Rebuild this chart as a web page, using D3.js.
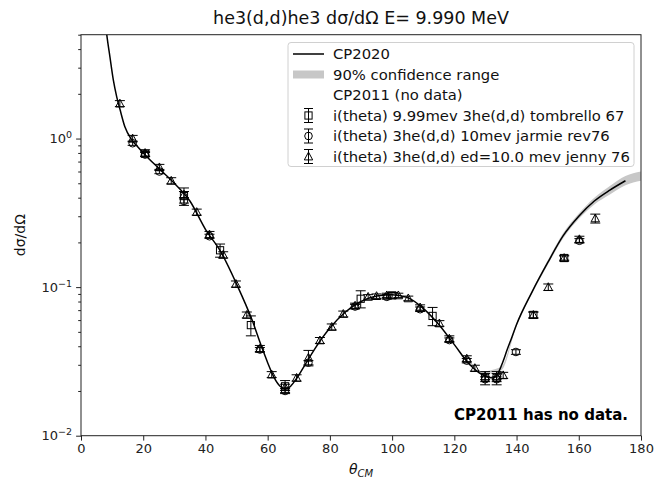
<!DOCTYPE html>
<html>
<head>
<meta charset="utf-8">
<script src="https://cdn.jsdelivr.net/npm/d3@7"></script>
<style>
  html, body { margin: 0; padding: 0; background: #fff; }
  text { font-family: "DejaVu Sans", sans-serif; }
</style>
</head>
<body>
<div id="chart"></div>
<script>
// CP2020 curve (theta in degrees, dsigma/dOmega)
const cpTheta = [8.0, 8.3, 9.3, 10.4, 11.5, 12.5, 14.1, 16.3, 18, 20, 25, 30, 35, 40, 45, 50, 55, 58, 60, 62, 64, 65.5, 67, 69, 72, 75, 80, 85, 90, 95, 100, 105, 110, 115, 120, 125, 128, 131, 132.5, 134, 135.5, 137, 138.5, 140, 145, 150, 155, 160, 165, 170, 175];
const cpValue = [5.6, 4.97, 3.54, 2.47, 1.90, 1.58, 1.20, 0.98, 0.89, 0.80, 0.63, 0.50, 0.38, 0.245, 0.172, 0.105, 0.060, 0.040, 0.031, 0.0248, 0.0215, 0.0206, 0.0212, 0.0238, 0.030, 0.038, 0.053, 0.068, 0.080, 0.087, 0.089, 0.085, 0.072, 0.056, 0.041, 0.030, 0.0265, 0.0247, 0.0245, 0.0262, 0.031, 0.038, 0.046, 0.056, 0.093, 0.146, 0.222, 0.30, 0.38, 0.45, 0.52];

// 90% confidence range
const bandTheta = [128, 135, 140, 145, 150, 155, 160, 165, 170, 175, 180];
const bandLow = [0.0262, 0.0275, 0.0545, 0.0905, 0.141, 0.213, 0.287, 0.36, 0.42, 0.485, 0.52];
const bandHigh = [0.0268, 0.0290, 0.0575, 0.0955, 0.151, 0.231, 0.313, 0.40, 0.48, 0.56, 0.60];

// i(theta) 9.99mev 3he(d,d) tombrello 67 (squares)
const tomTheta = [20.6, 33.1, 44.7, 54.6, 65.6, 89.9, 100.0, 113.0, 129.9, 133.6, 145.4, 155.3];
const tomValue = [0.79, 0.41, 0.177, 0.0555, 0.0215, 0.0835, 0.088, 0.064, 0.0245, 0.0245, 0.065, 0.157];
const tomError = [0.03, 0.055, 0.018, 0.0085, 0.002, 0.011, 0.004, 0.009, 0.0025, 0.0025, 0.003, 0.005];

// i(theta) 3he(d,d) 10mev jarmie rev76 (circles)
const jarTheta = [16.6, 20.6, 25.2, 33.1, 41.3, 57.5, 65.6, 73.1, 88.1, 98.3, 109.0, 118.4, 124.0, 129.9, 133.6, 139.8, 160.2];
const jarValue = [0.93, 0.78, 0.60, 0.38, 0.22, 0.038, 0.020, 0.031, 0.074, 0.086, 0.071, 0.044, 0.032, 0.024, 0.024, 0.0366, 0.205];
const jarError = [0.03, 0.025, 0.02, 0.012, 0.007, 0.0012, 0.0008, 0.001, 0.0025, 0.003, 0.0025, 0.0015, 0.0011, 0.0009, 0.0009, 0.0013, 0.007];

// i(theta) 3he(d,d) ed=10.0 mev jenny 76 (triangles)
const jenTheta = [12.5, 16.6, 20.6, 25.2, 29.0, 33.1, 37.2, 41.3, 45.7, 49.8, 53.3, 57.5, 61.3, 65.6, 69.3, 73.1, 76.8, 80.6, 84.3, 88.1, 92.3, 95.0, 98.3, 102.0, 105.2, 109.0, 115.2, 118.4, 124.0, 126.6, 129.9, 133.6, 135.7, 145.4, 150.2, 155.3, 160.2, 165.3];
const jenValue = [1.72, 1.00, 0.80, 0.64, 0.52, 0.42, 0.32, 0.226, 0.165, 0.105, 0.065, 0.0385, 0.0258, 0.0212, 0.0245, 0.0335, 0.0438, 0.054, 0.066, 0.075, 0.086, 0.087, 0.088, 0.088, 0.084, 0.073, 0.057, 0.045, 0.033, 0.0285, 0.025, 0.025, 0.0255, 0.065, 0.100, 0.157, 0.21, 0.29];
const jenError = [0.08, 0.05, 0.04, 0.03, 0.025, 0.02, 0.015, 0.011, 0.008, 0.005, 0.003, 0.002, 0.0012, 0.001, 0.0012, 0.004, 0.002, 0.0025, 0.003, 0.003, 0.003, 0.003, 0.003, 0.003, 0.003, 0.003, 0.0025, 0.002, 0.0015, 0.0013, 0.0012, 0.0012, 0.0012, 0.003, 0.005, 0.007, 0.01, 0.02];

const xTicks = [0, 20, 40, 60, 80, 100, 120, 140, 160, 180];
const yTicks = [0.01, 0.1, 1];
const yTickExp = ["\u22122", "\u22121", "0"];
const legendLabels = ["CP2020", "90% confidence range", "CP2011 (no data)",
  "i(theta) 9.99mev 3he(d,d) tombrello 67",
  "i(theta) 3he(d,d) 10mev jarmie rev76",
  "i(theta) 3he(d,d) ed=10.0 mev jenny 76"];

const width = 654, height = 481;
const plot = { left: 81, right: 641, top: 34.7, bottom: 435.7 };

const svg = d3.select('#chart').append('svg')
  .attr('width', width).attr('height', height);

const x = d3.scaleLinear().domain([0, 180]).range([plot.left, plot.right]);
const y = d3.scaleLog().domain([0.01, 5]).range([plot.bottom, plot.top]);

svg.append('clipPath').attr('id', 'clip')
  .append('rect')
  .attr('x', plot.left).attr('y', plot.top)
  .attr('width', plot.right - plot.left).attr('height', plot.bottom - plot.top);

const g = svg.append('g').attr('clip-path', 'url(#clip)');

// 置信带
const band = d3.area()
  .x((d, i) => x(bandTheta[i]))
  .y0((d, i) => y(bandLow[i]))
  .y1((d, i) => y(bandHigh[i]))
  .curve(d3.curveMonotoneX);
g.append('path').datum(bandTheta)
  .attr('fill', '#b4b4b4').attr('fill-opacity', 0.75).attr('d', band);

// CP2020 曲线
const line = d3.line()
  .x((d, i) => x(cpTheta[i]))
  .y((d, i) => y(cpValue[i]))
  .curve(d3.curveMonotoneX);
g.append('path').datum(cpValue)
  .attr('fill', 'none').attr('stroke', '#000').attr('stroke-width', 1.5).attr('d', line);

// 数据点
function marker(sel, shape, cx, cy) {
  if (shape === 'square') {
    sel.append('rect').attr('x', cx - 3.6).attr('y', cy - 3.6).attr('width', 7.2).attr('height', 7.2);
  } else if (shape === 'circle') {
    sel.append('circle').attr('cx', cx).attr('cy', cy).attr('r', 3.8);
  } else {
    sel.append('path').attr('d', `M${cx},${cy - 4.4}L${cx + 4.2},${cy + 3.4}L${cx - 4.2},${cy + 3.4}Z`);
  }
}

function errorbar(sel, cx, yLo, yHi, cap) {
  sel.append('line').attr('x1', cx).attr('x2', cx).attr('y1', yLo).attr('y2', yHi);
  sel.append('line').attr('x1', cx - cap).attr('x2', cx + cap).attr('y1', yLo).attr('y2', yLo);
  sel.append('line').attr('x1', cx - cap).attr('x2', cx + cap).attr('y1', yHi).attr('y2', yHi);
}

const series = [
  { theta: tomTheta, value: tomValue, err: tomError, shape: 'square' },
  { theta: jarTheta, value: jarValue, err: jarError, shape: 'circle' },
  { theta: jenTheta, value: jenValue, err: jenError, shape: 'triangle' }
];

series.forEach(s => {
  const sg = g.append('g').attr('stroke', '#000').attr('stroke-width', 1).attr('fill', 'none');
  s.theta.forEach((t, i) => {
    const cx = x(t);
    errorbar(sg, cx, y(s.value[i] - s.err[i]), y(s.value[i] + s.err[i]), 5);
    marker(sg, s.shape, cx, y(s.value[i]));
  });
});

// 坐标轴
const axisColor = '#222';
const xAxis = svg.append('g').attr('transform', `translate(0,${plot.bottom})`)
  .call(d3.axisBottom(x).tickValues(xTicks).tickSize(4.9).tickPadding(3.5).tickFormat(d3.format('d')));
const yAxis = svg.append('g').attr('transform', `translate(${plot.left},0)`)
  .call(d3.axisLeft(y).tickValues(yTicks).tickSize(4.9).tickPadding(3.5).tickFormat(''));

const minor = [];
[0.01, 0.1, 1].forEach(dec => d3.range(2, 10).forEach(k => { if (dec * k <= 5) minor.push(dec * k); }));
svg.append('g').attr('transform', `translate(${plot.left},0)`)
  .call(d3.axisLeft(y).tickValues(minor).tickSize(2.8).tickFormat(''))
  .call(a => a.select('.domain').remove());

[xAxis, yAxis].forEach(a => {
  a.selectAll('.domain').remove();
  a.selectAll('line').attr('stroke', axisColor).attr('stroke-width', 1);
  a.selectAll('text').attr('font-size', 13).attr('fill', '#222').style('font-family', '"DejaVu Sans"');
});
svg.selectAll('.tick line').attr('stroke', axisColor);

// y 轴刻度标签 10^n
yTicks.forEach((v, i) => {
  const t = svg.append('text')
    .attr('x', plot.left - 9).attr('y', y(v) + 4.5)
    .attr('text-anchor', 'end').attr('font-size', 13).attr('fill', '#222');
  t.append('tspan').text('10');
  t.append('tspan').attr('font-size', 9.5).attr('dy', -5).text(yTickExp[i]);
});

// 边框
svg.append('rect')
  .attr('x', plot.left).attr('y', plot.top)
  .attr('width', plot.right - plot.left).attr('height', plot.bottom - plot.top)
  .attr('fill', 'none').attr('stroke', axisColor).attr('stroke-width', 1);

// 标题与轴标签
svg.append('text').attr('x', (plot.left + plot.right) / 2).attr('y', 24)
  .attr('text-anchor', 'middle').attr('font-size', 17.5).attr('fill', '#111')
  .text('he3(d,d)he3 d\u03c3/d\u03a9 E= 9.990 MeV');

const xl = svg.append('text').attr('x', (plot.left + plot.right) / 2).attr('y', 474)
  .attr('text-anchor', 'middle').attr('font-size', 14).attr('fill', '#111');
xl.append('tspan').attr('font-style', 'italic').text('\u03b8');
xl.append('tspan').attr('font-style', 'italic').attr('font-size', 10).attr('dy', 3).text('CM');

svg.append('text')
  .attr('transform', `translate(25,${(plot.top + plot.bottom) / 2}) rotate(-90)`)
  .attr('text-anchor', 'middle').attr('font-size', 14).attr('fill', '#111')
  .text('d\u03c3/d\u03a9');

svg.append('text').attr('x', 628).attr('y', 420)
  .attr('text-anchor', 'end').attr('font-size', 15).attr('font-weight', 'bold').attr('fill', '#000')
  .text('CP2011 has no data.');

// 图例
const lg = svg.append('g');
lg.append('rect').attr('x', 288).attr('y', 42.5).attr('width', 346).attr('height', 124)
  .attr('rx', 3).attr('fill', '#fff').attr('fill-opacity', 0.85).attr('stroke', '#d0d0d0');

const rowY = legendLabels.map((_, i) => 54 + i * 20.5);
lg.append('line').attr('x1', 293).attr('x2', 324).attr('y1', rowY[0]).attr('y2', rowY[0])
  .attr('stroke', '#000').attr('stroke-width', 1.5);
lg.append('rect').attr('x', 293).attr('y', rowY[1] - 4).attr('width', 31).attr('height', 8)
  .attr('fill', '#b4b4b4').attr('fill-opacity', 0.75);

const lm = lg.append('g').attr('stroke', '#000').attr('stroke-width', 1).attr('fill', 'none');
series.forEach((s, i) => {
  const cy = rowY[3 + i];
  errorbar(lm, 308.5, cy + 7, cy - 7, 4.5);
  marker(lm, s.shape, 308.5, cy);
});

legendLabels.forEach((label, i) => {
  lg.append('text').attr('x', 333).attr('y', rowY[i] + 5)
    .attr('font-size', 14.8).attr('fill', '#111').text(label);
});
</script>
</body>
</html>
